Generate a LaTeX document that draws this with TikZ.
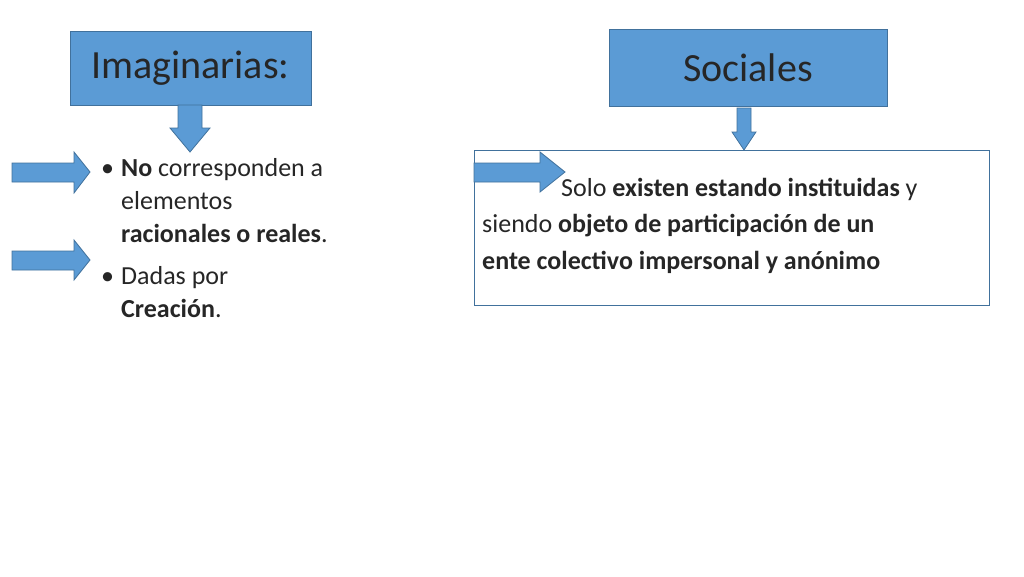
\documentclass[tikz,border=0pt]{standalone}
\usepackage{fontspec}
\setmainfont{Carlito}
\definecolor{blu}{HTML}{5B9BD5}
\definecolor{bord}{HTML}{41719C}
\definecolor{txt}{HTML}{262626}
\begin{document}
\begin{tikzpicture}[x=1pt,y=-1pt,
  hbox/.style={fill=blu,draw=bord,line width=1pt,text=txt,font=\fontsize{40}{44}\selectfont},
  arr/.style={fill=blu,draw=bord,line width=0.8pt},
  body/.style={text=txt,font=\fontsize{26}{33}\selectfont,anchor=north west,align=left,inner sep=0pt}]
\useasboundingbox (0,0) rectangle (1024,576);
\node[hbox,minimum width=241pt,minimum height=74pt] (imag) at (190.5,68) {Imaginarias:};
\node[hbox,minimum width=278pt,minimum height=77pt] (soc) at (748,67.5) {Sociales};
% down arrows
\draw[arr] (178,105)--(202,105)--(202,128)--(210,128)--(190,152)--(170,128)--(178,128)--cycle;
\draw[arr] (737,108)--(751,108)--(751,132)--(756,132)--(744,150)--(732,132)--(737,132)--cycle;
% right arrows
\draw[arr] (12,163)--(74,163)--(74,152)--(90,172)--(74,193)--(74,182)--(12,182)--cycle;
\draw[arr] (12,251)--(74,251)--(74,240)--(90,260)--(74,280)--(74,270)--(12,270)--cycle;
% bullets
\node[body] (b1) at (101,158) {\makebox[20pt][l]{•}\textbf{No} corresponden a\\\hspace*{20pt}elementos\\\hspace*{20pt}\textbf{racionales o reales}.};
\node[body] (b2) at (101,266) {\makebox[20pt][l]{•}Dadas por\\\hspace*{20pt}\textbf{Creación}.};
% right box
\node[draw=bord,line width=0.8pt,fill=white,minimum width=515pt,minimum height=155pt] (rb) at (731.5,227.5) {};
\draw[arr] (474,163)--(540,163)--(540,152)--(565,172)--(540,192)--(540,182)--(474,182)--cycle;
\node[body,font=\fontsize{26}{36.5}\selectfont] (rt) at (482,178) {\hspace*{79pt}Solo \textbf{existen estando instituidas} y\\siendo \textbf{objeto de participación de un}\\\textbf{ente colectivo impersonal y anónimo}};
\end{tikzpicture}
\end{document}
